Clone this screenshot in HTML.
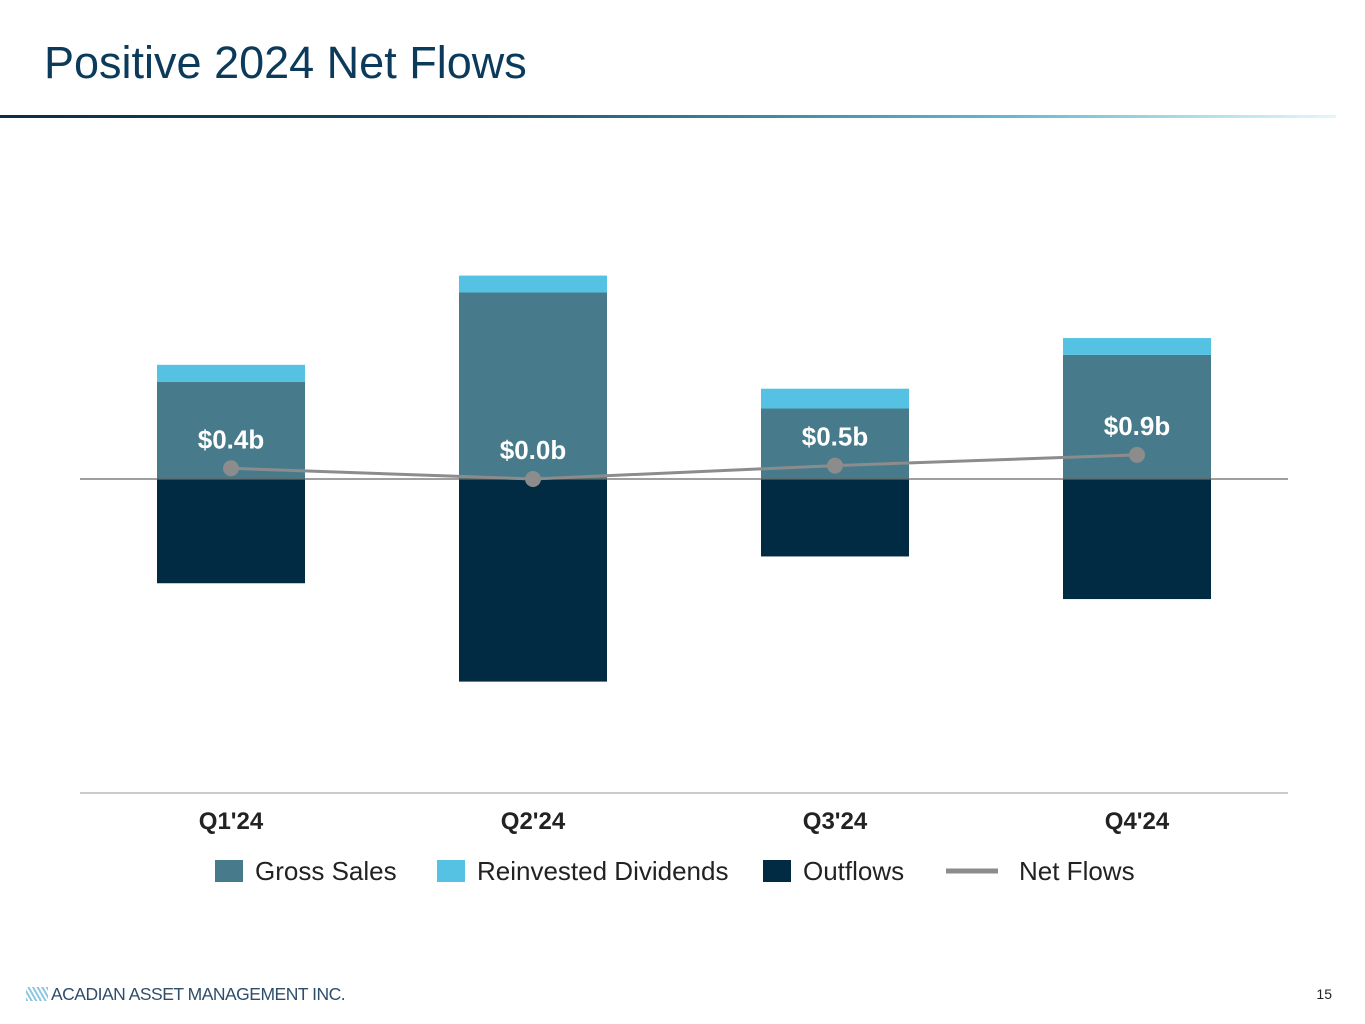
<!DOCTYPE html>
<html><head><meta charset="utf-8"><style>
body{margin:0;width:1365px;height:1024px;background:#fff;font-family:"Liberation Sans",Arial,sans-serif;position:relative;overflow:hidden}
#title{position:absolute;left:44px;top:37px;font-size:45px;color:#0b3a5b;margin:0;font-weight:normal}
#rule{position:absolute;left:0;top:115px;width:1336px;height:3px;background:linear-gradient(90deg,#0d2d45 0%,#174d66 35%,#5fb9cf 75%,#e6f6fa 100%)}
#logo{position:absolute;left:26px;top:984px;font-size:17.5px;color:#2e4d6b;letter-spacing:-0.5px}
#page{position:absolute;right:33px;top:986px;font-size:14px;color:#222}
</style></head><body>
<h1 id="title">Positive 2024 Net Flows</h1>
<div id="rule"></div>
<svg id="chart" width="1365" height="1024" style="position:absolute;left:0;top:0"></svg>
<div id="logo"><span style="display:inline-block;width:22px;height:14px;background:repeating-linear-gradient(60deg,#8cc8e0 0 2px,#fff 2px 4px);vertical-align:-1px;margin-right:3px"></span>ACADIAN ASSET MANAGEMENT INC.</div>
<div id="page">15</div>
<script>
const categories=["Q1'24","Q2'24","Q3'24","Q4'24"];
const grossSales=[3.63,6.96,2.63,4.63];
const reinvestedDividends=[0.63,0.63,0.74,0.63];
const outflows=[-3.89,-7.56,-2.89,-4.48];
const netFlows=[0.4,0.0,0.5,0.9];
const netLabels=["$0.4b","$0.0b","$0.5b","$0.9b"];

const NS="http://www.w3.org/2000/svg";
const svg=document.getElementById('chart');
const plotL=80,plotR=1288,zeroY=479,pxPerB=26.8,barW=148;
const band=(plotR-plotL)/categories.length;
const x=i=>plotL+band*i+band/2;
const y=v=>zeroY-v*pxPerB;
function mk(t,a){const e=document.createElementNS(NS,t);for(const k in a)e.setAttribute(k,a[k]);svg.appendChild(e);return e;}

categories.forEach((c,i)=>{
  const g=grossSales[i],d=reinvestedDividends[i],o=outflows[i];
  let r=mk('rect',{x:x(i)-barW/2,y:y(g),width:barW,height:y(0)-y(g),fill:'#477b8b'});
  
  
  r=mk('rect',{x:x(i)-barW/2,y:y(g+d),width:barW,height:y(g)-y(g+d),fill:'#56c2e3'});
  
  
  r=mk('rect',{x:x(i)-barW/2,y:y(0),width:barW,height:y(o)-y(0),fill:'#012a43'});
  
  
  const t=mk('text',{x:x(i),y:829,'text-anchor':'middle','font-size':24,'font-weight':'bold',fill:'#222'});
  t.textContent=c;
  
  
});
let zl=mk('line',{x1:plotL,x2:plotR,y1:zeroY,y2:zeroY,stroke:'#666','stroke-width':1.3});


let al=mk('line',{x1:plotL,x2:plotR,y1:793,y2:793,stroke:'#aaa','stroke-width':1.3});


const pl=mk('polyline',{points:netFlows.map((v,i)=>x(i)+','+y(v)).join(' '),fill:'none',stroke:'#8c8c8c','stroke-width':3});


netFlows.forEach((v,i)=>{
  const c=mk('circle',{cx:x(i),cy:y(v),r:8,fill:'#8c8c8c'});
  
  
  const t=mk('text',{x:x(i),y:y(v)-20,'text-anchor':'middle','font-size':26,'font-weight':'bold',fill:'#fff'});
  t.textContent=netLabels[i];
  
  
});
const leg=[["Gross Sales",'#477b8b',215,'rect'],["Reinvested Dividends",'#56c2e3',437,'rect'],["Outflows",'#012a43',763,'rect'],["Net Flows",'#8c8c8c',946,'line']];
leg.forEach(l=>{
  if(l[3]==='rect'){const r=mk('rect',{x:l[2],y:860,width:28,height:22,fill:l[1]});
    
    
    const t=mk('text',{x:l[2]+40,y:880,'font-size':26,fill:'#222'});t.textContent=l[0];
    
    
  } else {const r=mk('line',{x1:l[2],x2:l[2]+52,y1:871,y2:871,stroke:l[1],'stroke-width':5});
    
    
    const t=mk('text',{x:l[2]+73,y:880,'font-size':26,fill:'#222'});t.textContent=l[0];
    
    
  }
});
</script>
</body></html>
